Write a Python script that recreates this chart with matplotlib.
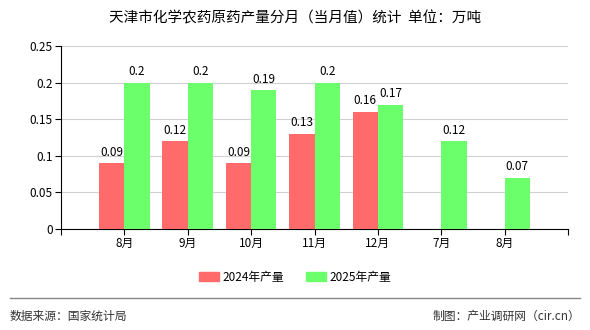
import matplotlib.pyplot as plt
import numpy as np

plt.rcParams['font.family'] = ['Noto Sans CJK SC', 'DejaVu Sans']

months = ["8月", "9月", "10月", "11月", "12月", "7月", "8月"]
prod_2024 = [0.09, 0.12, 0.09, 0.13, 0.16, None, None]
prod_2025 = [0.2, 0.2, 0.19, 0.2, 0.17, 0.12, 0.07]
yticks = [0, 0.05, 0.1, 0.15, 0.2, 0.25]
ytick_labels = ["0", "0.05", "0.1", "0.15", "0.2", "0.25"]

red = "#ff6b6b"
green = "#6bff6b"
w = 0.4

fig = plt.figure(figsize=(5.9, 3.3), dpi=100)
ax = fig.add_axes([61 / 590, 1 - 229 / 330, (568 - 61) / 590, (229 - 46) / 330])

x = np.arange(len(months))
for i, v in enumerate(prod_2024):
    if v is not None:
        ax.bar(x[i] - w / 2, v, w, color=red, zorder=3)
        ax.text(x[i] - w / 2, v + 0.006, f"{v:g}", ha="center", va="bottom", fontsize=8.5)
for i, v in enumerate(prod_2025):
    ax.bar(x[i] + w / 2, v, w, color=green, zorder=3)
    ax.text(x[i] + w / 2, v + 0.006, f"{v:g}", ha="center", va="bottom", fontsize=8.5)

ax.set_xlim(-1, len(months))
ax.set_ylim(0, 0.25)
ax.set_yticks(yticks)
ax.set_yticklabels(ytick_labels, fontsize=8.5)
ax.set_xticks(list(range(-1, len(months) + 1)))
ax.set_xticklabels([""] + months + [""], fontsize=8.5)
ax.grid(axis="y", color="#d0d0d0", linewidth=0.8, zorder=0)
for s in ["top", "right"]:
    ax.spines[s].set_visible(False)
ax.spines["left"].set_color("black")
ax.spines["bottom"].set_color("black")
ax.tick_params(length=4, width=0.8, pad=2)

fig.text(0.5, 1 - 18 / 330, "天津市化学农药原药产量分月（当月值）统计  单位：万吨",
         ha="center", va="center", fontsize=10.5)

# legend
handles = [plt.Rectangle((0, 0), 1, 1, color=red), plt.Rectangle((0, 0), 1, 1, color=green)]
fig.legend(handles, ["2024年产量", "2025年产量"], loc="center", bbox_to_anchor=(0.5, 1 - 277 / 330),
           ncol=2, frameon=False, fontsize=8.5, handlelength=1.7, handleheight=0.7,
           columnspacing=1.8, handletextpad=0.3)

fig.add_artist(plt.Line2D([10 / 590, 580 / 590], [1 - 298 / 330] * 2, color="#888888", linewidth=1))
fig.text(10 / 590, 1 - 316 / 330, "数据来源：国家统计局", ha="left", va="center", fontsize=8.5, color="#333333")
fig.text(580 / 590, 1 - 316 / 330, "制图：产业调研网（cir.cn）", ha="right", va="center", fontsize=8.5, color="#333333")

fig.savefig("out.png", dpi=100)
